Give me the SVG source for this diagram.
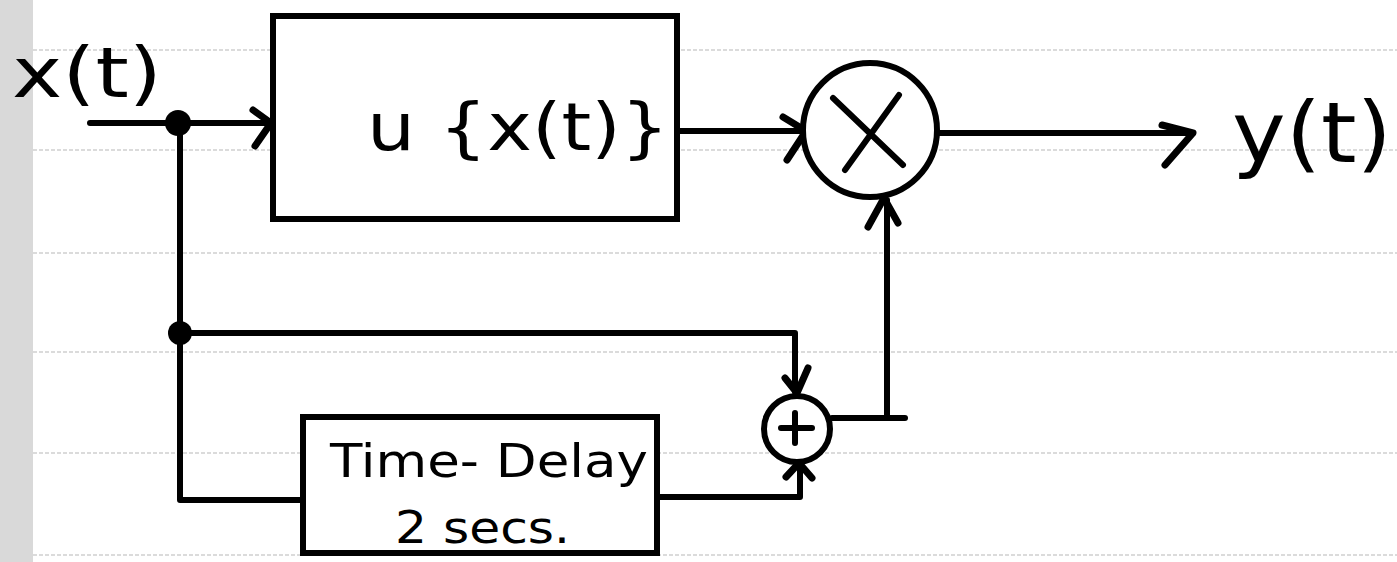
<svg xmlns="http://www.w3.org/2000/svg" width="1397" height="562" viewBox="0 0 1397 562">
<style>
.ln{fill:none;stroke:#000;stroke-width:6;stroke-linecap:round;stroke-linejoin:round}
.ah{fill:none;stroke:#000;stroke-width:7;stroke-linecap:round;stroke-linejoin:round}
.box{fill:#fff;stroke:#000;stroke-width:6}
.ruled{stroke:#cfcfcf;stroke-width:1.6;stroke-dasharray:4 2}
.hw{font-family:"DejaVu Sans","Liberation Sans",sans-serif;fill:#000}
</style>
<rect width="1397" height="562" fill="#fff"/>
<rect x="0" y="0" width="33" height="562" fill="#d9d9d9"/>
<g id="ruling">
<line class="ruled" x1="33" y1="50" x2="1397" y2="50"/>
<line class="ruled" x1="33" y1="150" x2="1397" y2="150"/>
<line class="ruled" x1="33" y1="253" x2="1397" y2="253"/>
<line class="ruled" x1="33" y1="352" x2="1397" y2="352"/>
<line class="ruled" x1="33" y1="453" x2="1397" y2="453"/>
<line class="ruled" x1="33" y1="555" x2="1397" y2="555"/>
</g>
<g id="connectors">
<path class="ln" d="M90,123 H270"/>
<path class="ah" d="M253,110 L271,123 L255,146"/>
<path class="ln" d="M180,123 V500 H303"/>
<path class="ln" d="M180,333 H795 V392"/>
<path class="ah" d="M785,378 L797,393 L808,368"/>
<path class="ln" d="M678,131 H805"/>
<path class="ah" d="M783,117 L806,131 L787,160"/>
<path class="ln" d="M938,133 H1193"/>
<path class="ah" d="M1162,125 L1193,133 L1165,165"/>
<path class="ln" d="M657,497 H800 V465"/>
<path class="ah" d="M786,477 L799,463 L812,478"/>
<path class="ln" d="M832,418 H905"/>
<path class="ln" d="M887,418 V200"/>
<path class="ah" d="M868,227 L884,198 L898,223"/>
</g>
<g id="junction1"><circle cx="178" cy="123" r="13" fill="#000"/></g>
<g id="junction2"><circle cx="180" cy="333" r="12" fill="#000"/></g>
<g id="input-label"><text class="hw" x="12" y="97" font-size="70" textLength="150" lengthAdjust="spacingAndGlyphs">x(t)</text></g>
<g id="system-u">
<rect class="box" x="273" y="16" width="404" height="203"/>
<text class="hw" x="367" y="150" font-size="66" textLength="302" lengthAdjust="spacingAndGlyphs">u {x(t)}</text>
</g>
<g id="multiplier">
<circle cx="870" cy="130" r="67" fill="#fff" stroke="#000" stroke-width="6"/>
<path class="ln" d="M833,98 L903,165 M899,95 L845,170"/>
</g>
<g id="output-label"><text class="hw" x="1232" y="162" font-size="84" textLength="160" lengthAdjust="spacingAndGlyphs">y(t)</text></g>
<g id="adder">
<circle cx="797" cy="429" r="33" fill="#fff" stroke="#000" stroke-width="6"/>
<path class="ln" d="M781,428 H812 M795,413 V443"/>
</g>
<g id="time-delay">
<rect class="box" x="303" y="417" width="354" height="136"/>
<text class="hw" x="330" y="477" font-size="46" textLength="318" lengthAdjust="spacingAndGlyphs">Time- Delay</text>
<text class="hw" x="395" y="543" font-size="44" textLength="175" lengthAdjust="spacingAndGlyphs">2 secs.</text>
</g>
</svg>
